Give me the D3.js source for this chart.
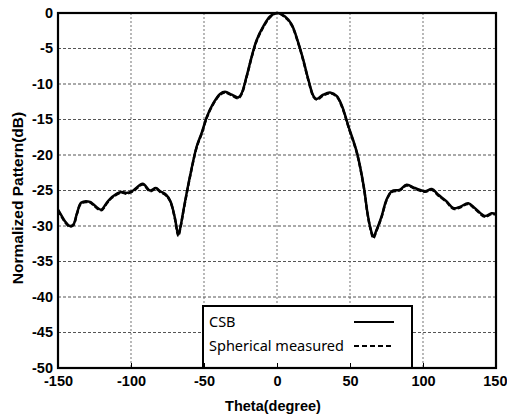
<!DOCTYPE html>
<html><head><meta charset="utf-8">
<script src="https://cdn.jsdelivr.net/npm/d3@7"></script>
<style>body{margin:0;background:#fff}svg{display:block}</style>
</head><body>
<script>
const theta = [-150,-148,-145,-142,-139.5,-137,-134,-128,-126,-120.5,-116.5,-113,-106.5,-103,-98.5,-92,-87,-83,-80,-76,-73,-70,-67.6,-66,-64,-59.6,-55,-51.6,-48,-43.6,-39,-35.6,-31,-26.5,-24.2,-20.8,-17.3,-13.9,-9.4,-4.8,0,5.5,10,14.6,18,21.5,25,27.2,31.7,36.3,41,44.5,49,54.8,59.4,62,64,66,68.3,71.7,75,78.6,84,88.8,94.5,101.4,106,110.5,116,121,125.3,131,135.6,142.5,147,150];
const csb = [-27.7,-28.4,-29.4,-30.0,-29.8,-28.2,-26.7,-26.6,-26.9,-27.7,-26.7,-25.9,-25.2,-25.35,-25.0,-24.05,-25.0,-24.65,-25.1,-25.6,-26.5,-28.8,-31.2,-30.0,-27.7,-23.0,-18.8,-16.9,-14.6,-12.7,-11.4,-11.1,-11.5,-11.9,-11.3,-8.9,-6.1,-3.8,-1.9,-0.5,0,-0.5,-1.6,-4.2,-6.6,-9.4,-11.7,-12.1,-11.5,-11.2,-11.7,-13.1,-16.0,-19.7,-24.4,-28.2,-30.3,-31.5,-30.5,-28.6,-26.3,-25.1,-24.9,-24.2,-24.65,-25.1,-24.8,-25.6,-26.5,-27.5,-27.3,-26.8,-27.5,-28.6,-28.2,-28.3];
const measured = [-27.8,-28.5,-29.5,-30.1,-29.9,-28.3,-26.8,-26.7,-27.0,-27.8,-26.8,-26.0,-25.3,-25.45,-25.1,-24.15,-25.1,-24.75,-25.2,-25.7,-26.6,-28.9,-31.4,-30.1,-27.8,-23.1,-18.9,-17.0,-14.7,-12.8,-11.5,-11.2,-11.6,-12.0,-11.4,-9.0,-6.2,-3.9,-2.0,-0.6,0,-0.6,-1.7,-4.3,-6.7,-9.5,-11.8,-12.2,-11.6,-11.3,-11.8,-13.2,-16.1,-19.8,-24.5,-28.3,-30.4,-31.7,-30.6,-28.7,-26.4,-25.2,-25.0,-24.3,-24.75,-25.2,-24.9,-25.7,-26.6,-27.6,-27.4,-26.9,-27.6,-28.7,-28.3,-28.4];
const xTicks = [-150,-100,-50,0,50,100,150];
const yTicks = [0,-5,-10,-15,-20,-25,-30,-35,-40,-45,-50];
const seriesNames = ["CSB","Spherical measured"];

const W=507,H=416, m={l:58,r:11,t:13,b:48};
const svg=d3.select("body").append("svg").attr("width",W).attr("height",H);
const x=d3.scaleLinear().domain([-150,150]).range([m.l,W-m.r]);
const y=d3.scaleLinear().domain([-50,0]).range([H-m.b,m.t]);
const font="'Liberation Sans', Arial, sans-serif";

// grid
const g=svg.append("g");
g.selectAll(".vg").data(xTicks.slice(1,-1)).join("line")
 .attr("x1",d=>x(d)).attr("x2",d=>x(d)).attr("y1",y(0)).attr("y2",y(-50))
 .attr("stroke","#8a8a8a").attr("stroke-width",1.2).attr("stroke-dasharray","2,2");
g.selectAll(".hg").data(yTicks.slice(1,-1)).join("line")
 .attr("x1",x(-150)).attr("x2",x(150)).attr("y1",d=>y(d)).attr("y2",d=>y(d))
 .attr("stroke","#555").attr("stroke-width",1).attr("stroke-dasharray","3,2");

// lines
const pts=(arr)=>theta.map((t,i)=>[t,arr[i]]);
const line=d3.line().x(d=>x(d[0])).y(d=>y(d[1])).curve(d3.curveCatmullRom.alpha(0.5));
svg.append("path").attr("d",line(pts(measured))).attr("fill","none").attr("stroke","#000").attr("stroke-width",2.4).attr("stroke-dasharray","5,2");
svg.append("path").attr("d",line(pts(csb))).attr("fill","none").attr("stroke","#000").attr("stroke-width",2.5).attr("stroke-linejoin","round");

// legend
const lg=svg.append("g");
lg.append("rect").attr("x",203).attr("y",306).attr("width",209).attr("height",y(-50)-306)
 .attr("fill","#fff").attr("stroke","#000").attr("stroke-width",2);
const lf="'Noto Sans', 'Open Sans', sans-serif";
seriesNames.forEach((n,i)=>{
  const yy=[322,346][i];
  lg.append("text").attr("x",209).attr("y",yy+5).text(n).attr("font-family",lf).attr("font-size",14.5).attr("fill","#000");
  lg.append("line").attr("x1",354).attr("x2",394).attr("y1",yy).attr("y2",yy)
   .attr("stroke","#000").attr("stroke-width",2).attr("stroke-dasharray",i?"5,3":null);
});

// axes
const fmt=d=>String(d);
const xa=svg.append("g").attr("transform",`translate(0,${y(-50)})`)
 .call(d3.axisBottom(x).tickValues(xTicks).tickSize(-5).tickPadding(6).tickFormat(fmt));
const ya=svg.append("g").attr("transform",`translate(${x(-150)},0)`)
 .call(d3.axisLeft(y).tickValues(yTicks).tickSize(0).tickPadding(5).tickFormat(fmt));
[xa,ya].forEach(a=>{a.select(".domain").remove();a.selectAll("text").attr("font-family",font).attr("font-weight","bold").attr("font-size",14.5).attr("fill","#000");a.selectAll("line").attr("stroke","#000");});
xa.selectAll("text").attr("dy","0.85em");
xa.selectAll(".tick").filter(d=>d===150).select("text").attr("text-anchor","end").attr("dx","11");
ya.selectAll("text").attr("dy","0.3em");

// frame
svg.append("rect").attr("x",x(-150)).attr("y",y(0)).attr("width",x(150)-x(-150)).attr("height",y(-50)-y(0))
 .attr("fill","none").attr("stroke","#000").attr("stroke-width",2.2);

svg.append("text").attr("x",(x(-150)+x(150))/2-4).attr("y",411).attr("text-anchor","middle")
 .attr("font-family",font).attr("font-weight","bold").attr("font-size",14.5).text("Theta(degree)");
svg.append("text").attr("transform",`translate(18,198) rotate(-90)`).attr("text-anchor","middle").attr("dy","0.35em")
 .attr("font-family",font).attr("font-weight","bold").attr("font-size",15.5).text("Normalized Pattern(dB)");
</script>
</body></html>
